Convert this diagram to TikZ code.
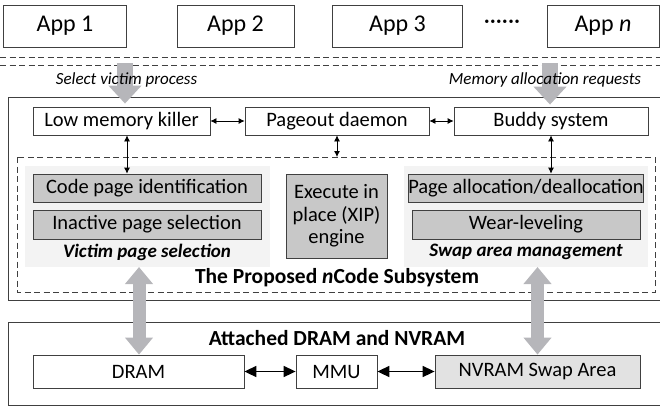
\documentclass[tikz,border=0pt]{standalone}
\usepackage{fontspec}
\setmainfont{Carlito}
\usetikzlibrary{arrows.meta,positioning,calc}
\definecolor{boxgray}{RGB}{200,200,200}
\definecolor{panelgray}{RGB}{243,243,243}
\definecolor{swapgray}{RGB}{226,226,226}
\definecolor{arrowgray}{RGB}{182,182,186}
\definecolor{linegray}{RGB}{64,64,64}

\begin{document}
\begin{tikzpicture}[
    x=1pt, y=-1pt,
    box/.style={draw=linegray, line width=0.8pt, minimum height=28pt, inner sep=0pt, align=center, font=\fontsize{20.5}{24}\selectfont},
    appbox/.style={box, minimum height=42pt, font=\fontsize{24}{28}\selectfont},
    greybox/.style={box, fill=boxgray},
    panel/.style={fill=panelgray, draw=none},
    frame/.style={draw=linegray, line width=0.8pt},
    longdash/.style={draw=linegray, dash pattern=on 6pt off 3.5pt, line width=0.8pt},
    caption/.style={font=\fontsize{19}{22}\selectfont\bfseries\itshape},
    title/.style={font=\fontsize{21.5}{26}\selectfont\bfseries},
    note/.style={font=\fontsize{17}{20}\selectfont\itshape},
    bigarrow/.style={draw=arrowgray, line width=13pt, {Triangle[width=27pt,length=17pt]}-{Triangle[width=27pt,length=17pt]}},
    inarrow/.style={draw=arrowgray, line width=16pt, -{Triangle[width=32pt,length=18pt]}},
    smallarrow/.style={draw=black, line width=0.8pt, {Latex[length=6pt,width=6pt]}-{Latex[length=6pt,width=6pt]}},
    memarrow/.style={draw=black, line width=1.6pt, {Triangle[length=12pt,width=11pt]}-{Triangle[length=12pt,width=11pt]}},
]
\useasboundingbox (0,0) rectangle (660,407);

% Applications
\node[appbox, minimum width=123pt] (app1) at (65,26) {App 1};
\node[appbox, minimum width=117pt] (app2) at (235.5,26) {App 2};
\node[appbox, minimum width=130pt] (app3) at (397.5,26) {App 3};
\node[font=\fontsize{24}{28}\selectfont] (dots) at (502,24) {\textperiodcentered\textperiodcentered\textperiodcentered\textperiodcentered\textperiodcentered\textperiodcentered};
\node[appbox, minimum width=112pt] (appn) at (603,26) {App \textit{n}};

% User/kernel boundary
\draw[longdash] (0,57) -- (660,57);
\draw[longdash] (0,65) -- (660,65);

% Kernel frames (open to the right)
\draw[frame] (660,97) -- (8,97) -- (8,300) -- (660,300);
\draw[frame] (660,322) -- (8,322) -- (8,405) -- (660,405);

% Kernel components
\node[box, minimum width=177pt] (lmk) at (121.5,121) {Low memory killer};
\node[box, minimum width=184pt] (pageout) at (337,121) {Pageout daemon};
\node[box, minimum width=194pt] (buddy) at (551,121) {Buddy system};

% nCode subsystem
\draw[longdash] (17,157) rectangle (655,292);
\coordinate (subtop) at (337,157);
\path[panel] (25,166) rectangle (270,267);
\path[panel] (404,166) rectangle (648,267);
\coordinate (victim) at (139,267);
\coordinate (swap) at (537.5,267);

\node[greybox, minimum width=228pt] (codeid) at (147,188) {Code page identification};
\node[greybox, minimum width=228pt, minimum height=29pt] (inactive) at (147,224.5) {Inactive page selection};
\node[caption] at (147,252) {Victim page selection};

\node[greybox, minimum width=101pt, minimum height=84pt, font=\fontsize{20.5}{22.5}\selectfont] (xip) at (336.5,216) {Execute in\\place (XIP)\\engine};

\node[greybox, minimum width=228pt] (pagealloc) at (526,188) {Page allocation/deallocation};
\node[greybox, minimum width=228pt, minimum height=29pt] (wear) at (526,224.5) {Wear-leveling};
\node[caption] at (526,252) {Swap area management};

\node[title] (subtitle) at (337,278) {The Proposed \textit{n}Code Subsystem};

% Memory
\node[title] (memtitle) at (337,338) {Attached DRAM and NVRAM};
\node[box, minimum width=211pt, minimum height=33pt] (dram) at (138.5,371.5) {DRAM};
\node[box, minimum width=81pt, minimum height=33pt] (mmu) at (336.5,371.5) {MMU};
\node[box, fill=swapgray, minimum width=205pt, minimum height=33pt] (nvram) at (537.5,371.5) {NVRAM Swap Area};

% Arrows
\coordinate (vsrc) at (125,63);
\coordinate (msrc) at (550,63);
\draw[inarrow] (vsrc) -- ($(vsrc |- lmk.north)+(0,-3)$);
\draw[inarrow] (msrc) -- ($(msrc |- buddy.north)+(0,-2)$);

\draw[smallarrow] (lmk) -- (pageout);
\draw[smallarrow] (pageout) -- (buddy);
\draw[smallarrow] (lmk.south -| 127,0) -- (codeid.north -| 127,0);
\draw[smallarrow] (pageout.south) -- (subtop);
\draw[smallarrow] (buddy.south) -- (buddy.south |- pagealloc.north);

\draw[bigarrow] (victim) -- (victim |- dram.north);
\draw[bigarrow] (swap) -- (nvram.north);

\draw[memarrow] (dram) -- (mmu);
\draw[memarrow] (mmu) -- (nvram);

% Request labels
\node[note] (selectlbl) at (126.5,80) {Select victim process};
\node[note] (alloclbl) at (545,80) {Memory allocation requests};

\end{tikzpicture}
\end{document}
